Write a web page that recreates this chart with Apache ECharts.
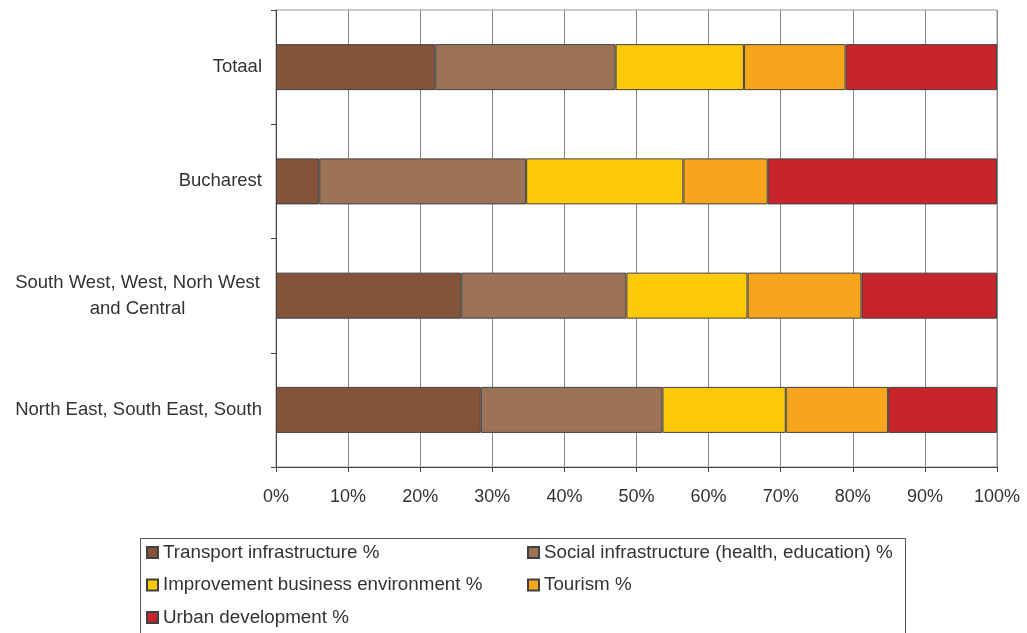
<html>
<head>
<meta charset="utf-8">
<title>Stacked share per region</title>
<script src="https://cdn.jsdelivr.net/npm/echarts@6/dist/echarts.min.js"></script>
<style>
  html, body { margin: 0; padding: 0; background: #fff; }
</style>
</head>
<body style="width:100%;height:100%">
<div id="main" style="width:1027px;height:633px;"></div>
<script>
// categories, top to bottom
var regions = ['Totaal', 'Bucharest', 'South West, West, Norh West\nand Central', 'North East, South East, South'];
var xTicks = [0, 10, 20, 30, 40, 50, 60, 70, 80, 90, 100];

// shares per region (%)
var transport = [22.1, 6.0, 25.7, 28.4];
var social = [25.0, 28.7, 22.9, 25.2];
var business = [17.8, 21.8, 16.8, 17.1];
var tourism = [14.1, 11.7, 15.8, 14.2];
var urban = [21.0, 31.8, 18.8, 15.1];

var seriesNames = ['Transport infrastructure %', 'Social infrastructure (health, education) %',
  'Improvement business environment %', 'Tourism %', 'Urban development %'];
var seriesColors = ['#84533a', '#9c7356', '#fcca0a', '#f8a51e', '#c8242c'];
var seriesData = [transport, social, business, tourism, urban];

var myChart = echarts.init(document.getElementById('main'), null, {renderer: 'canvas'});

var ser = [];
for (var i = 0; i < seriesNames.length; i++) {
  ser.push({
    name: seriesNames[i],
    type: 'bar',
    stack: 'all',
    barWidth: 46,
    data: seriesData[i],
    itemStyle: {color: seriesColors[i], borderColor: '#404040', borderWidth: 1}
  });
}

var legendText = {color: '#333', fontSize: 18.8, fontFamily: 'Liberation Sans', lineHeight: 20};

var option = {
  animation: false,
  textStyle: {fontFamily: 'Liberation Sans'},
  grid: {left: 276, right: 30, top: 10, bottom: 166, show: true, borderColor: '#999', borderWidth: 1},
  xAxis: {
    type: 'value',
    min: xTicks[0],
    max: xTicks[xTicks.length - 1],
    interval: 10,
    axisLine: {show: true, lineStyle: {color: '#444'}},
    axisTick: {show: true, length: 5, lineStyle: {color: '#444'}},
    axisLabel: {formatter: '{value}%', color: '#333', fontSize: 18, margin: 21},
    splitLine: {show: true, lineStyle: {color: '#888'}}
  },
  yAxis: {
    type: 'category',
    inverse: true,
    data: regions,
    axisLine: {show: true, lineStyle: {color: '#444'}},
    axisTick: {show: true, length: 5, lineStyle: {color: '#444'}},
    axisLabel: {
      color: '#333',
      fontSize: 18.5,
      margin: 14,
      lineHeight: 26,
      formatter: function (v) {
        if (v.indexOf('\n') >= 0) {
          var parts = v.split('\n');
          return '{c|' + parts[0] + '}\n{c|' + parts[1] + '}';
        }
        return v;
      },
      rich: {c: {width: 249, align: 'center', fontSize: 18.5, color: '#333', lineHeight: 26}}
    }
  },
  legend: [
    {
      data: [seriesNames[0], seriesNames[2], seriesNames[4]],
      orient: 'vertical',
      left: 146,
      top: 542.5,
      padding: 0,
      itemWidth: 11,
      itemHeight: 11,
      itemGap: 12.5,
      icon: 'rect',
      selectedMode: false,
      textStyle: legendText
    },
    {
      data: [seriesNames[1], seriesNames[3]],
      orient: 'vertical',
      left: 527,
      top: 542.5,
      padding: 0,
      itemWidth: 11,
      itemHeight: 11,
      itemGap: 12.5,
      icon: 'rect',
      selectedMode: false,
      textStyle: legendText
    }
  ],
  graphic: [
    {
      type: 'rect',
      shape: {x: 140.5, y: 538.5, width: 765, height: 110},
      style: {fill: 'none', stroke: '#555', lineWidth: 1},
      silent: true
    }
  ],
  series: ser
};

myChart.setOption(option);
</script>
</body>
</html>
